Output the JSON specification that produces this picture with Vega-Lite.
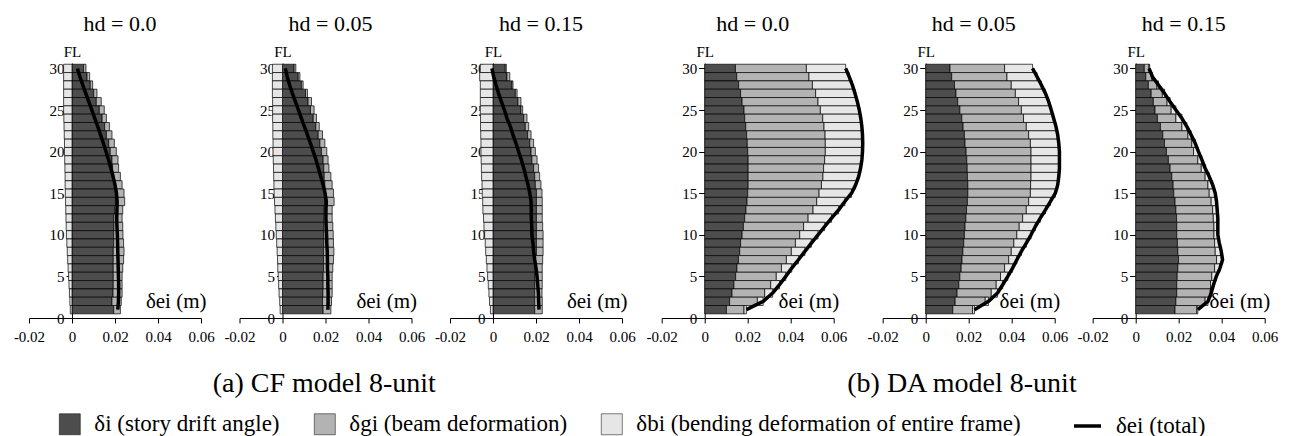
{
"$schema": "https://vega.github.io/schema/vega-lite/v6.json",
"background": "white",
"padding": {"left": 13, "top": 13, "right": 5, "bottom": 0},
"spacing": 9.7,
"data": {"values": [
{"p":1,"f":30,"i":0.0054,"g":0.0011,"b":-0.0039,"e":0.0025},
{"p":1,"f":29,"i":0.0070,"g":0.0012,"b":-0.0039,"e":0.0037},
{"p":1,"f":28,"i":0.0085,"g":0.0011,"b":-0.0039,"e":0.0050},
{"p":1,"f":27,"i":0.0101,"g":0.0015,"b":-0.0039,"e":0.0064},
{"p":1,"f":26,"i":0.0113,"g":0.0023,"b":-0.0039,"e":0.0078},
{"p":1,"f":25,"i":0.0127,"g":0.0023,"b":-0.0039,"e":0.0092},
{"p":1,"f":24,"i":0.0140,"g":0.0020,"b":-0.0038,"e":0.0106},
{"p":1,"f":23,"i":0.0152,"g":0.0022,"b":-0.0037,"e":0.0120},
{"p":1,"f":22,"i":0.0160,"g":0.0026,"b":-0.0036,"e":0.0133},
{"p":1,"f":21,"i":0.0171,"g":0.0026,"b":-0.0035,"e":0.0146},
{"p":1,"f":20,"i":0.0178,"g":0.0028,"b":-0.0035,"e":0.0158},
{"p":1,"f":19,"i":0.0186,"g":0.0028,"b":-0.0034,"e":0.0170},
{"p":1,"f":18,"i":0.0189,"g":0.0028,"b":-0.0033,"e":0.0181},
{"p":1,"f":17,"i":0.0194,"g":0.0031,"b":-0.0032,"e":0.0191},
{"p":1,"f":16,"i":0.0198,"g":0.0035,"b":-0.0032,"e":0.0200},
{"p":1,"f":15,"i":0.0202,"g":0.0040,"b":-0.0031,"e":0.0207},
{"p":1,"f":14,"i":0.0202,"g":0.0043,"b":-0.0030,"e":0.0210},
{"p":1,"f":13,"i":0.0198,"g":0.0038,"b":-0.0029,"e":0.0209},
{"p":1,"f":12,"i":0.0195,"g":0.0038,"b":-0.0028,"e":0.0208},
{"p":1,"f":11,"i":0.0195,"g":0.0041,"b":-0.0027,"e":0.0209},
{"p":1,"f":10,"i":0.0194,"g":0.0043,"b":-0.0026,"e":0.0211},
{"p":1,"f":9,"i":0.0194,"g":0.0046,"b":-0.0024,"e":0.0212},
{"p":1,"f":8,"i":0.0192,"g":0.0050,"b":-0.0022,"e":0.0213},
{"p":1,"f":7,"i":0.0192,"g":0.0048,"b":-0.0020,"e":0.0214},
{"p":1,"f":6,"i":0.0192,"g":0.0044,"b":-0.0018,"e":0.0215},
{"p":1,"f":5,"i":0.0192,"g":0.0041,"b":-0.0016,"e":0.0216},
{"p":1,"f":4,"i":0.0192,"g":0.0041,"b":-0.0014,"e":0.0217},
{"p":1,"f":3,"i":0.0191,"g":0.0042,"b":-0.0012,"e":0.0217},
{"p":1,"f":2,"i":0.0186,"g":0.0043,"b":-0.0010,"e":0.0216},
{"p":1,"f":1,"i":0.0194,"g":0.0031,"b":-0.0008,"e":0.0213},
{"p":2,"f":30,"i":0.0054,"g":0.0008,"b":-0.0047,"e":0.0013},
{"p":2,"f":29,"i":0.0073,"g":0.0008,"b":-0.0047,"e":0.0022},
{"p":2,"f":28,"i":0.0088,"g":0.0008,"b":-0.0047,"e":0.0033},
{"p":2,"f":27,"i":0.0107,"g":0.0009,"b":-0.0047,"e":0.0046},
{"p":2,"f":26,"i":0.0119,"g":0.0016,"b":-0.0046,"e":0.0060},
{"p":2,"f":25,"i":0.0130,"g":0.0017,"b":-0.0046,"e":0.0074},
{"p":2,"f":24,"i":0.0143,"g":0.0015,"b":-0.0046,"e":0.0088},
{"p":2,"f":23,"i":0.0155,"g":0.0016,"b":-0.0045,"e":0.0102},
{"p":2,"f":22,"i":0.0166,"g":0.0020,"b":-0.0045,"e":0.0116},
{"p":2,"f":21,"i":0.0174,"g":0.0023,"b":-0.0044,"e":0.0130},
{"p":2,"f":20,"i":0.0181,"g":0.0025,"b":-0.0044,"e":0.0143},
{"p":2,"f":19,"i":0.0189,"g":0.0023,"b":-0.0043,"e":0.0156},
{"p":2,"f":18,"i":0.0192,"g":0.0024,"b":-0.0042,"e":0.0167},
{"p":2,"f":17,"i":0.0194,"g":0.0031,"b":-0.0041,"e":0.0178},
{"p":2,"f":16,"i":0.0197,"g":0.0034,"b":-0.0040,"e":0.0189},
{"p":2,"f":15,"i":0.0197,"g":0.0040,"b":-0.0039,"e":0.0198},
{"p":2,"f":14,"i":0.0197,"g":0.0043,"b":-0.0037,"e":0.0204},
{"p":2,"f":13,"i":0.0194,"g":0.0037,"b":-0.0035,"e":0.0202},
{"p":2,"f":12,"i":0.0192,"g":0.0039,"b":-0.0033,"e":0.0202},
{"p":2,"f":11,"i":0.0192,"g":0.0042,"b":-0.0031,"e":0.0203},
{"p":2,"f":10,"i":0.0192,"g":0.0044,"b":-0.0029,"e":0.0205},
{"p":2,"f":9,"i":0.0192,"g":0.0045,"b":-0.0027,"e":0.0206},
{"p":2,"f":8,"i":0.0191,"g":0.0048,"b":-0.0025,"e":0.0208},
{"p":2,"f":7,"i":0.0191,"g":0.0046,"b":-0.0023,"e":0.0209},
{"p":2,"f":6,"i":0.0191,"g":0.0043,"b":-0.0022,"e":0.0209},
{"p":2,"f":5,"i":0.0189,"g":0.0042,"b":-0.0020,"e":0.0211},
{"p":2,"f":4,"i":0.0189,"g":0.0042,"b":-0.0018,"e":0.0211},
{"p":2,"f":3,"i":0.0188,"g":0.0043,"b":-0.0016,"e":0.0212},
{"p":2,"f":2,"i":0.0186,"g":0.0042,"b":-0.0013,"e":0.0212},
{"p":2,"f":1,"i":0.0189,"g":0.0036,"b":-0.0011,"e":0.0211},
{"p":3,"f":30,"i":0.0057,"g":0.0005,"b":-0.0059,"e":-0.0005},
{"p":3,"f":29,"i":0.0065,"g":0.0013,"b":-0.0062,"e":0.0003},
{"p":3,"f":28,"i":0.0088,"g":0.0005,"b":-0.0059,"e":0.0014},
{"p":3,"f":27,"i":0.0104,"g":0.0008,"b":-0.0059,"e":0.0026},
{"p":3,"f":26,"i":0.0116,"g":0.0014,"b":-0.0059,"e":0.0039},
{"p":3,"f":25,"i":0.0130,"g":0.0008,"b":-0.0059,"e":0.0053},
{"p":3,"f":24,"i":0.0143,"g":0.0015,"b":-0.0058,"e":0.0065},
{"p":3,"f":23,"i":0.0150,"g":0.0016,"b":-0.0058,"e":0.0081},
{"p":3,"f":22,"i":0.0161,"g":0.0016,"b":-0.0057,"e":0.0093},
{"p":3,"f":21,"i":0.0171,"g":0.0018,"b":-0.0056,"e":0.0107},
{"p":3,"f":20,"i":0.0177,"g":0.0020,"b":-0.0056,"e":0.0119},
{"p":3,"f":19,"i":0.0181,"g":0.0024,"b":-0.0055,"e":0.0132},
{"p":3,"f":18,"i":0.0189,"g":0.0023,"b":-0.0054,"e":0.0143},
{"p":3,"f":17,"i":0.0194,"g":0.0023,"b":-0.0053,"e":0.0153},
{"p":3,"f":16,"i":0.0197,"g":0.0026,"b":-0.0051,"e":0.0163},
{"p":3,"f":15,"i":0.0202,"g":0.0026,"b":-0.0050,"e":0.0171},
{"p":3,"f":14,"i":0.0202,"g":0.0027,"b":-0.0048,"e":0.0177},
{"p":3,"f":13,"i":0.0202,"g":0.0027,"b":-0.0047,"e":0.0178},
{"p":3,"f":12,"i":0.0202,"g":0.0027,"b":-0.0044,"e":0.0178},
{"p":3,"f":11,"i":0.0202,"g":0.0029,"b":-0.0042,"e":0.0180},
{"p":3,"f":10,"i":0.0202,"g":0.0031,"b":-0.0039,"e":0.0181},
{"p":3,"f":9,"i":0.0202,"g":0.0031,"b":-0.0036,"e":0.0186},
{"p":3,"f":8,"i":0.0202,"g":0.0031,"b":-0.0034,"e":0.0189},
{"p":3,"f":7,"i":0.0198,"g":0.0033,"b":-0.0031,"e":0.0194},
{"p":3,"f":6,"i":0.0197,"g":0.0032,"b":-0.0028,"e":0.0200},
{"p":3,"f":5,"i":0.0195,"g":0.0034,"b":-0.0025,"e":0.0205},
{"p":3,"f":4,"i":0.0195,"g":0.0034,"b":-0.0022,"e":0.0208},
{"p":3,"f":3,"i":0.0194,"g":0.0034,"b":-0.0019,"e":0.0211},
{"p":3,"f":2,"i":0.0194,"g":0.0035,"b":-0.0016,"e":0.0212},
{"p":3,"f":1,"i":0.0194,"g":0.0035,"b":-0.0012,"e":0.0214},
{"p":4,"f":30,"i":0.0143,"g":0.0330,"b":0.0183,"e":0.0656},
{"p":4,"f":29,"i":0.0149,"g":0.0336,"b":0.0187,"e":0.0672},
{"p":4,"f":28,"i":0.0158,"g":0.0343,"b":0.0186,"e":0.0687},
{"p":4,"f":27,"i":0.0167,"g":0.0349,"b":0.0183,"e":0.0699},
{"p":4,"f":26,"i":0.0174,"g":0.0353,"b":0.0183,"e":0.0710},
{"p":4,"f":25,"i":0.0183,"g":0.0355,"b":0.0181,"e":0.0719},
{"p":4,"f":24,"i":0.0186,"g":0.0363,"b":0.0177,"e":0.0726},
{"p":4,"f":23,"i":0.0191,"g":0.0364,"b":0.0176,"e":0.0731},
{"p":4,"f":22,"i":0.0195,"g":0.0365,"b":0.0174,"e":0.0734},
{"p":4,"f":21,"i":0.0198,"g":0.0363,"b":0.0174,"e":0.0735},
{"p":4,"f":20,"i":0.0200,"g":0.0361,"b":0.0173,"e":0.0734},
{"p":4,"f":19,"i":0.0202,"g":0.0356,"b":0.0173,"e":0.0731},
{"p":4,"f":18,"i":0.0202,"g":0.0351,"b":0.0172,"e":0.0725},
{"p":4,"f":17,"i":0.0202,"g":0.0348,"b":0.0166,"e":0.0716},
{"p":4,"f":16,"i":0.0202,"g":0.0341,"b":0.0159,"e":0.0702},
{"p":4,"f":15,"i":0.0200,"g":0.0332,"b":0.0151,"e":0.0683},
{"p":4,"f":14,"i":0.0197,"g":0.0324,"b":0.0131,"e":0.0652},
{"p":4,"f":13,"i":0.0192,"g":0.0312,"b":0.0119,"e":0.0623},
{"p":4,"f":12,"i":0.0186,"g":0.0295,"b":0.0109,"e":0.0590},
{"p":4,"f":11,"i":0.0180,"g":0.0280,"b":0.0098,"e":0.0558},
{"p":4,"f":10,"i":0.0174,"g":0.0268,"b":0.0085,"e":0.0527},
{"p":4,"f":9,"i":0.0167,"g":0.0255,"b":0.0074,"e":0.0496},
{"p":4,"f":8,"i":0.0163,"g":0.0240,"b":0.0063,"e":0.0466},
{"p":4,"f":7,"i":0.0157,"g":0.0223,"b":0.0056,"e":0.0436},
{"p":4,"f":6,"i":0.0150,"g":0.0207,"b":0.0048,"e":0.0405},
{"p":4,"f":5,"i":0.0144,"g":0.0189,"b":0.0044,"e":0.0377},
{"p":4,"f":4,"i":0.0136,"g":0.0171,"b":0.0041,"e":0.0348},
{"p":4,"f":3,"i":0.0127,"g":0.0152,"b":0.0037,"e":0.0316},
{"p":4,"f":2,"i":0.0116,"g":0.0129,"b":0.0027,"e":0.0272},
{"p":4,"f":1,"i":0.0101,"g":0.0082,"b":0.0011,"e":0.0194},
{"p":5,"f":30,"i":0.0113,"g":0.0254,"b":0.0130,"e":0.0497},
{"p":5,"f":29,"i":0.0121,"g":0.0257,"b":0.0140,"e":0.0518},
{"p":5,"f":28,"i":0.0134,"g":0.0264,"b":0.0140,"e":0.0538},
{"p":5,"f":27,"i":0.0141,"g":0.0276,"b":0.0140,"e":0.0557},
{"p":5,"f":26,"i":0.0149,"g":0.0283,"b":0.0140,"e":0.0572},
{"p":5,"f":25,"i":0.0159,"g":0.0286,"b":0.0139,"e":0.0584},
{"p":5,"f":24,"i":0.0168,"g":0.0287,"b":0.0140,"e":0.0595},
{"p":5,"f":23,"i":0.0174,"g":0.0294,"b":0.0138,"e":0.0606},
{"p":5,"f":22,"i":0.0180,"g":0.0299,"b":0.0135,"e":0.0614},
{"p":5,"f":21,"i":0.0183,"g":0.0304,"b":0.0132,"e":0.0619},
{"p":5,"f":20,"i":0.0188,"g":0.0302,"b":0.0132,"e":0.0622},
{"p":5,"f":19,"i":0.0191,"g":0.0299,"b":0.0132,"e":0.0622},
{"p":5,"f":18,"i":0.0193,"g":0.0297,"b":0.0132,"e":0.0622},
{"p":5,"f":17,"i":0.0194,"g":0.0296,"b":0.0129,"e":0.0619},
{"p":5,"f":16,"i":0.0196,"g":0.0292,"b":0.0126,"e":0.0614},
{"p":5,"f":15,"i":0.0196,"g":0.0291,"b":0.0116,"e":0.0603},
{"p":5,"f":14,"i":0.0194,"g":0.0285,"b":0.0101,"e":0.0580},
{"p":5,"f":13,"i":0.0190,"g":0.0278,"b":0.0089,"e":0.0557},
{"p":5,"f":12,"i":0.0187,"g":0.0264,"b":0.0082,"e":0.0533},
{"p":5,"f":11,"i":0.0183,"g":0.0252,"b":0.0075,"e":0.0510},
{"p":5,"f":10,"i":0.0180,"g":0.0244,"b":0.0066,"e":0.0490},
{"p":5,"f":9,"i":0.0177,"g":0.0233,"b":0.0058,"e":0.0468},
{"p":5,"f":8,"i":0.0173,"g":0.0225,"b":0.0047,"e":0.0445},
{"p":5,"f":7,"i":0.0169,"g":0.0217,"b":0.0038,"e":0.0424},
{"p":5,"f":6,"i":0.0165,"g":0.0202,"b":0.0037,"e":0.0404},
{"p":5,"f":5,"i":0.0159,"g":0.0189,"b":0.0034,"e":0.0382},
{"p":5,"f":4,"i":0.0154,"g":0.0174,"b":0.0030,"e":0.0358},
{"p":5,"f":3,"i":0.0146,"g":0.0159,"b":0.0029,"e":0.0334},
{"p":5,"f":2,"i":0.0137,"g":0.0140,"b":0.0015,"e":0.0292},
{"p":5,"f":1,"i":0.0126,"g":0.0092,"b":0.0009,"e":0.0227},
{"p":6,"f":30,"i":0.0040,"g":0.0022,"b":0.0003,"e":0.0062},
{"p":6,"f":29,"i":0.0047,"g":0.0028,"b":0.0003,"e":0.0078},
{"p":6,"f":28,"i":0.0059,"g":0.0040,"b":0.0007,"e":0.0106},
{"p":6,"f":27,"i":0.0072,"g":0.0052,"b":0.0010,"e":0.0134},
{"p":6,"f":26,"i":0.0082,"g":0.0064,"b":0.0014,"e":0.0160},
{"p":6,"f":25,"i":0.0090,"g":0.0075,"b":0.0022,"e":0.0187},
{"p":6,"f":24,"i":0.0101,"g":0.0086,"b":0.0028,"e":0.0215},
{"p":6,"f":23,"i":0.0115,"g":0.0100,"b":0.0023,"e":0.0238},
{"p":6,"f":22,"i":0.0126,"g":0.0117,"b":0.0015,"e":0.0258},
{"p":6,"f":21,"i":0.0134,"g":0.0127,"b":0.0016,"e":0.0277},
{"p":6,"f":20,"i":0.0143,"g":0.0126,"b":0.0023,"e":0.0292},
{"p":6,"f":19,"i":0.0152,"g":0.0137,"b":0.0019,"e":0.0308},
{"p":6,"f":18,"i":0.0160,"g":0.0145,"b":0.0018,"e":0.0323},
{"p":6,"f":17,"i":0.0168,"g":0.0155,"b":0.0019,"e":0.0342},
{"p":6,"f":16,"i":0.0174,"g":0.0162,"b":0.0022,"e":0.0358},
{"p":6,"f":15,"i":0.0177,"g":0.0165,"b":0.0028,"e":0.0370},
{"p":6,"f":14,"i":0.0183,"g":0.0168,"b":0.0025,"e":0.0376},
{"p":6,"f":13,"i":0.0187,"g":0.0171,"b":0.0021,"e":0.0379},
{"p":6,"f":12,"i":0.0190,"g":0.0171,"b":0.0021,"e":0.0382},
{"p":6,"f":11,"i":0.0191,"g":0.0173,"b":0.0018,"e":0.0382},
{"p":6,"f":10,"i":0.0191,"g":0.0173,"b":0.0018,"e":0.0382},
{"p":6,"f":9,"i":0.0194,"g":0.0173,"b":0.0022,"e":0.0389},
{"p":6,"f":8,"i":0.0196,"g":0.0174,"b":0.0028,"e":0.0398},
{"p":6,"f":7,"i":0.0199,"g":0.0177,"b":0.0028,"e":0.0404},
{"p":6,"f":6,"i":0.0196,"g":0.0171,"b":0.0025,"e":0.0392},
{"p":6,"f":5,"i":0.0193,"g":0.0161,"b":0.0021,"e":0.0375},
{"p":6,"f":4,"i":0.0191,"g":0.0157,"b":0.0014,"e":0.0362},
{"p":6,"f":3,"i":0.0191,"g":0.0156,"b":0.0004,"e":0.0351},
{"p":6,"f":2,"i":0.0187,"g":0.0136,"b":0.0013,"e":0.0336},
{"p":6,"f":1,"i":0.0183,"g":0.0101,"b":0.0005,"e":0.0289}
]},
"hconcat": [
{
"spacing": 8.5,
"title": {"text": "(a) CF model 8-unit", "orient": "bottom", "anchor": "middle", "fontSize": 28, "offset": 26, "font": "Liberation Serif", "fontWeight": "normal"},
"hconcat": [
{"width": 172, "height": 255, "title": {"text": "hd = 0.0", "fontSize": 22, "offset": 8, "dx": 5, "font": "Liberation Serif", "fontWeight": "normal"},
 "transform": [{"filter": "datum.p == 1"}],
 "encoding": {"y": {"field": "f", "type": "quantitative", "scale": {"domain": [0, 30.65], "nice": false, "padding": 0}, "axis": {"values": [0,5,10,15,20,25,30], "offset": -43, "tickSize": 6, "labelPadding": 2, "title": "FL", "titleAngle": 0, "titleX": 0, "titleY": -12, "titleAlign": "center", "titleBaseline": "middle", "titleFontSize": 15}}},
 "layer": [
  {"transform": [{"fold": ["i","g","b"], "as": ["comp","v"]}],
   "mark": {"type": "bar", "orient": "horizontal", "size": 8.32, "stroke": "#000", "strokeWidth": 0.7},
   "encoding": {
    "x": {"field": "v", "type": "quantitative", "stack": "zero", "scale": {"domain": [-0.02, 0.06], "nice": false, "zero": false}, "axis": {"values": [-0.02,-0.01,0,0.01,0.02,0.03,0.04,0.05,0.06], "labelPadding": 6, "labelExpr": "round(datum.value*100) % 2 != 0 ? '' : (datum.value == 0 ? '0' : (datum.value < 0 ? '-' : '') + format(abs(datum.value), '.2f'))", "title": "δei (m)", "titleX": 177, "titleY": -11, "titleAlign": "right", "titleBaseline": "alphabetic", "titleFontSize": 21}},
    "fill": {"field": "comp", "type": "nominal", "scale": {"domain": ["i","g","b"], "range": ["#4d4d4d","#b3b3b3","#e6e6e6"]}, "legend": {"orient": "none", "legendX": 29.3, "legendY": 349.5, "direction": "horizontal", "columns": 3, "title": null, "symbolType": "square", "symbolSize": 441, "symbolStrokeColor": "#999", "symbolStrokeWidth": 0.5, "labelFont": "Liberation Serif", "labelFontSize": 23, "labelColor": "#000", "labelOffset": 13, "columnPadding": 33, "padding": 0, "labelLimit": 1000, "labelExpr": "datum.value == 'i' ? 'δi (story drift angle)' : datum.value == 'g' ? 'δgi (beam deformation)' : 'δbi (bending deformation of entire frame)'"}},
    "order": {"field": "comp", "sort": "descending"}
   }},
  {"transform": [{"fold": ["e"], "as": ["comp","v"]}],
   "mark": {"type": "line", "strokeWidth": 3.5, "strokeJoin": "round"},
   "encoding": {
    "x": {"field": "v", "type": "quantitative", "stack": null, "scale": {"domain": [-0.02, 0.06], "nice": false, "zero": false}},
    "stroke": {"field": "comp", "type": "nominal", "scale": {"domain": ["e"], "range": ["#000000"]}, "legend": {"orient": "none", "legendX": 1043, "legendY": 347.5, "direction": "horizontal", "title": null, "symbolType": "stroke", "symbolSize": 729, "symbolStrokeWidth": 3.5, "labelFont": "Liberation Serif", "labelFontSize": 23, "labelColor": "#000", "labelOffset": 13, "padding": 0, "labelLimit": 1000, "labelExpr": "'δei (total)'"}},
    "order": {"field": "f", "type": "quantitative"}
   }}
 ]},
{"width": 172, "height": 255, "title": {"text": "hd = 0.05", "fontSize": 22, "offset": 8, "dx": 5, "font": "Liberation Serif", "fontWeight": "normal"},
 "transform": [{"filter": "datum.p == 2"}],
 "encoding": {"y": {"field": "f", "type": "quantitative", "scale": {"domain": [0, 30.65], "nice": false, "padding": 0}, "axis": {"values": [0,5,10,15,20,25,30], "offset": -43, "tickSize": 6, "labelPadding": 2, "title": "FL", "titleAngle": 0, "titleX": 0, "titleY": -12, "titleAlign": "center", "titleBaseline": "middle", "titleFontSize": 15}}},
 "layer": [
  {"transform": [{"fold": ["i","g","b"], "as": ["comp","v"]}],
   "mark": {"type": "bar", "orient": "horizontal", "size": 8.32, "stroke": "#000", "strokeWidth": 0.7},
   "encoding": {
    "x": {"field": "v", "type": "quantitative", "stack": "zero", "scale": {"domain": [-0.02, 0.06], "nice": false, "zero": false}, "axis": {"values": [-0.02,-0.01,0,0.01,0.02,0.03,0.04,0.05,0.06], "labelPadding": 6, "labelExpr": "round(datum.value*100) % 2 != 0 ? '' : (datum.value == 0 ? '0' : (datum.value < 0 ? '-' : '') + format(abs(datum.value), '.2f'))", "title": "δei (m)", "titleX": 177, "titleY": -11, "titleAlign": "right", "titleBaseline": "alphabetic", "titleFontSize": 21}},
    "fill": {"field": "comp", "type": "nominal", "scale": {"domain": ["i","g","b"], "range": ["#4d4d4d","#b3b3b3","#e6e6e6"]}},
    "order": {"field": "comp", "sort": "descending"}
   }},
  {"transform": [{"fold": ["e"], "as": ["comp","v"]}],
   "mark": {"type": "line", "strokeWidth": 3.5, "strokeJoin": "round"},
   "encoding": {
    "x": {"field": "v", "type": "quantitative", "stack": null, "scale": {"domain": [-0.02, 0.06], "nice": false, "zero": false}},
    "stroke": {"field": "comp", "type": "nominal", "scale": {"domain": ["e"], "range": ["#000000"]}},
    "order": {"field": "f", "type": "quantitative"}
   }}
 ]},
{"width": 172, "height": 255, "title": {"text": "hd = 0.15", "fontSize": 22, "offset": 8, "dx": 5, "font": "Liberation Serif", "fontWeight": "normal"},
 "transform": [{"filter": "datum.p == 3"}],
 "encoding": {"y": {"field": "f", "type": "quantitative", "scale": {"domain": [0, 30.65], "nice": false, "padding": 0}, "axis": {"values": [0,5,10,15,20,25,30], "offset": -43, "tickSize": 6, "labelPadding": 2, "title": "FL", "titleAngle": 0, "titleX": 0, "titleY": -12, "titleAlign": "center", "titleBaseline": "middle", "titleFontSize": 15}}},
 "layer": [
  {"transform": [{"fold": ["i","g","b"], "as": ["comp","v"]}],
   "mark": {"type": "bar", "orient": "horizontal", "size": 8.32, "stroke": "#000", "strokeWidth": 0.7},
   "encoding": {
    "x": {"field": "v", "type": "quantitative", "stack": "zero", "scale": {"domain": [-0.02, 0.06], "nice": false, "zero": false}, "axis": {"values": [-0.02,-0.01,0,0.01,0.02,0.03,0.04,0.05,0.06], "labelPadding": 6, "labelExpr": "round(datum.value*100) % 2 != 0 ? '' : (datum.value == 0 ? '0' : (datum.value < 0 ? '-' : '') + format(abs(datum.value), '.2f'))", "title": "δei (m)", "titleX": 177, "titleY": -11, "titleAlign": "right", "titleBaseline": "alphabetic", "titleFontSize": 21}},
    "fill": {"field": "comp", "type": "nominal", "scale": {"domain": ["i","g","b"], "range": ["#4d4d4d","#b3b3b3","#e6e6e6"]}},
    "order": {"field": "comp", "sort": "descending"}
   }},
  {"transform": [{"fold": ["e"], "as": ["comp","v"]}],
   "mark": {"type": "line", "strokeWidth": 3.5, "strokeJoin": "round"},
   "encoding": {
    "x": {"field": "v", "type": "quantitative", "stack": null, "scale": {"domain": [-0.02, 0.06], "nice": false, "zero": false}},
    "stroke": {"field": "comp", "type": "nominal", "scale": {"domain": ["e"], "range": ["#000000"]}},
    "order": {"field": "f", "type": "quantitative"}
   }}
 ]}
]},
{
"spacing": 2,
"title": {"text": "(b) DA model 8-unit", "orient": "bottom", "anchor": "middle", "fontSize": 28, "offset": 26, "font": "Liberation Serif", "fontWeight": "normal"},
"hconcat": [
{"width": 172, "height": 255, "title": {"text": "hd = 0.0", "fontSize": 22, "offset": 8, "dx": 5, "font": "Liberation Serif", "fontWeight": "normal"},
 "transform": [{"filter": "datum.p == 4"}],
 "encoding": {"y": {"field": "f", "type": "quantitative", "scale": {"domain": [0, 30.65], "nice": false, "padding": 0}, "axis": {"values": [0,5,10,15,20,25,30], "offset": -43, "tickSize": 6, "labelPadding": 2, "title": "FL", "titleAngle": 0, "titleX": 0, "titleY": -12, "titleAlign": "center", "titleBaseline": "middle", "titleFontSize": 15}}},
 "layer": [
  {"transform": [{"fold": ["i","g","b"], "as": ["comp","v"]}],
   "mark": {"type": "bar", "orient": "horizontal", "size": 8.32, "stroke": "#000", "strokeWidth": 0.7},
   "encoding": {
    "x": {"field": "v", "type": "quantitative", "stack": "zero", "scale": {"domain": [-0.02, 0.06], "nice": false, "zero": false}, "axis": {"values": [-0.02,-0.01,0,0.01,0.02,0.03,0.04,0.05,0.06], "labelPadding": 6, "labelExpr": "round(datum.value*100) % 2 != 0 ? '' : (datum.value == 0 ? '0' : (datum.value < 0 ? '-' : '') + format(abs(datum.value), '.2f'))", "title": "δei (m)", "titleX": 177, "titleY": -11, "titleAlign": "right", "titleBaseline": "alphabetic", "titleFontSize": 21}},
    "fill": {"field": "comp", "type": "nominal", "scale": {"domain": ["i","g","b"], "range": ["#4d4d4d","#b3b3b3","#e6e6e6"]}},
    "order": {"field": "comp", "sort": "descending"}
   }},
  {"transform": [{"fold": ["e"], "as": ["comp","v"]}],
   "mark": {"type": "line", "strokeWidth": 3.5, "strokeJoin": "round"},
   "encoding": {
    "x": {"field": "v", "type": "quantitative", "stack": null, "scale": {"domain": [-0.02, 0.06], "nice": false, "zero": false}},
    "stroke": {"field": "comp", "type": "nominal", "scale": {"domain": ["e"], "range": ["#000000"]}},
    "order": {"field": "f", "type": "quantitative"}
   }}
 ]},
{
"bounds": "flush",
"spacing": 38,
"hconcat": [
{"width": 172, "height": 255, "title": {"text": "hd = 0.05", "fontSize": 22, "offset": 8, "dx": 5, "font": "Liberation Serif", "fontWeight": "normal"},
 "transform": [{"filter": "datum.p == 5"}],
 "encoding": {"y": {"field": "f", "type": "quantitative", "scale": {"domain": [0, 30.65], "nice": false, "padding": 0}, "axis": {"values": [0,5,10,15,20,25,30], "offset": -43, "tickSize": 6, "labelPadding": 2, "title": "FL", "titleAngle": 0, "titleX": 0, "titleY": -12, "titleAlign": "center", "titleBaseline": "middle", "titleFontSize": 15}}},
 "layer": [
  {"transform": [{"fold": ["i","g","b"], "as": ["comp","v"]}],
   "mark": {"type": "bar", "orient": "horizontal", "size": 8.32, "stroke": "#000", "strokeWidth": 0.7},
   "encoding": {
    "x": {"field": "v", "type": "quantitative", "stack": "zero", "scale": {"domain": [-0.02, 0.06], "nice": false, "zero": false}, "axis": {"values": [-0.02,-0.01,0,0.01,0.02,0.03,0.04,0.05,0.06], "labelPadding": 6, "labelExpr": "round(datum.value*100) % 2 != 0 ? '' : (datum.value == 0 ? '0' : (datum.value < 0 ? '-' : '') + format(abs(datum.value), '.2f'))", "title": "δei (m)", "titleX": 177, "titleY": -11, "titleAlign": "right", "titleBaseline": "alphabetic", "titleFontSize": 21}},
    "fill": {"field": "comp", "type": "nominal", "scale": {"domain": ["i","g","b"], "range": ["#4d4d4d","#b3b3b3","#e6e6e6"]}},
    "order": {"field": "comp", "sort": "descending"}
   }},
  {"transform": [{"fold": ["e"], "as": ["comp","v"]}],
   "mark": {"type": "line", "strokeWidth": 3.5, "strokeJoin": "round"},
   "encoding": {
    "x": {"field": "v", "type": "quantitative", "stack": null, "scale": {"domain": [-0.02, 0.06], "nice": false, "zero": false}},
    "stroke": {"field": "comp", "type": "nominal", "scale": {"domain": ["e"], "range": ["#000000"]}},
    "order": {"field": "f", "type": "quantitative"}
   }}
 ]},
{"width": 172, "height": 255, "title": {"text": "hd = 0.15", "fontSize": 22, "offset": 8, "dx": 5, "font": "Liberation Serif", "fontWeight": "normal"},
 "transform": [{"filter": "datum.p == 6"}],
 "encoding": {"y": {"field": "f", "type": "quantitative", "scale": {"domain": [0, 30.65], "nice": false, "padding": 0}, "axis": {"values": [0,5,10,15,20,25,30], "offset": -43, "tickSize": 6, "labelPadding": 2, "title": "FL", "titleAngle": 0, "titleX": 0, "titleY": -12, "titleAlign": "center", "titleBaseline": "middle", "titleFontSize": 15}}},
 "layer": [
  {"transform": [{"fold": ["i","g","b"], "as": ["comp","v"]}],
   "mark": {"type": "bar", "orient": "horizontal", "size": 8.32, "stroke": "#000", "strokeWidth": 0.7},
   "encoding": {
    "x": {"field": "v", "type": "quantitative", "stack": "zero", "scale": {"domain": [-0.02, 0.06], "nice": false, "zero": false}, "axis": {"values": [-0.02,-0.01,0,0.01,0.02,0.03,0.04,0.05,0.06], "labelPadding": 6, "labelExpr": "round(datum.value*100) % 2 != 0 ? '' : (datum.value == 0 ? '0' : (datum.value < 0 ? '-' : '') + format(abs(datum.value), '.2f'))", "title": "δei (m)", "titleX": 177, "titleY": -11, "titleAlign": "right", "titleBaseline": "alphabetic", "titleFontSize": 21}},
    "fill": {"field": "comp", "type": "nominal", "scale": {"domain": ["i","g","b"], "range": ["#4d4d4d","#b3b3b3","#e6e6e6"]}},
    "order": {"field": "comp", "sort": "descending"}
   }},
  {"transform": [{"fold": ["e"], "as": ["comp","v"]}],
   "mark": {"type": "line", "strokeWidth": 3.5, "strokeJoin": "round"},
   "encoding": {
    "x": {"field": "v", "type": "quantitative", "stack": null, "scale": {"domain": [-0.02, 0.06], "nice": false, "zero": false}},
    "stroke": {"field": "comp", "type": "nominal", "scale": {"domain": ["e"], "range": ["#000000"]}},
    "order": {"field": "f", "type": "quantitative"}
   }}
 ]}
]}
]}
],
"config": {
 "font": "Liberation Serif",
 "view": {"stroke": null},
 "axis": {"grid": false, "labelFont": "Liberation Serif", "labelFontSize": 15, "labelColor": "#000", "tickColor": "#000", "domainColor": "#000", "titleFont": "Liberation Serif", "titleFontWeight": "normal", "titleColor": "#000", "labelFlush": false, "labelOverlap": false, "tickSize": 5, "labelPadding": 2},
 "legend": {"labelFont": "Liberation Serif"},
 "title": {"font": "Liberation Serif", "fontWeight": "normal", "color": "#000"},
 "style": {
  "guide-label": {"font": "Liberation Serif", "fill": "#000"},
  "guide-title": {"font": "Liberation Serif", "fontWeight": "normal", "fill": "#000"},
  "group-title": {"font": "Liberation Serif", "fontWeight": "normal", "fill": "#000"}
 }
}
}
